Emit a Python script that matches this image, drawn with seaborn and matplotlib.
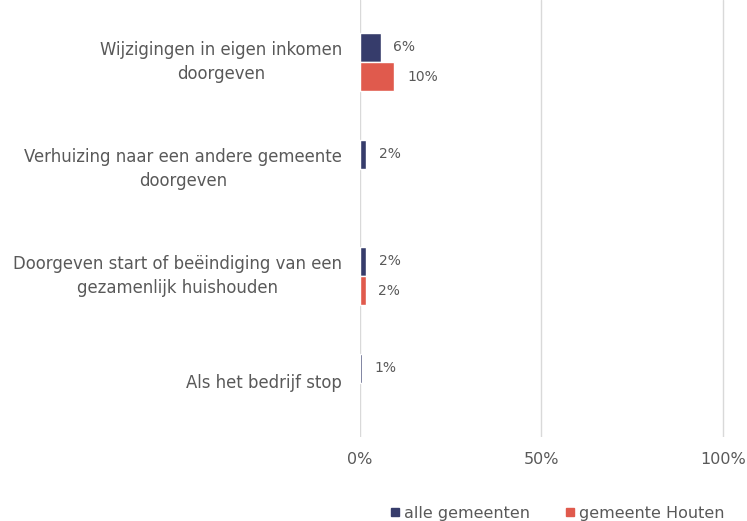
import numpy as np
import pandas as pd
import matplotlib
matplotlib.use("Agg")
import matplotlib.pyplot as plt
import seaborn as sns

categories = [
    "Wijzigingen in eigen inkomen\ndoorgeven",
    "Verhuizing naar een andere gemeente\ndoorgeven",
    "Doorgeven start of beëindiging van een\ngezamenlijk huishouden",
    "Als het bedrijf stop",
]
series = ["alle gemeenten", "gemeente Houten"]
alle_gemeenten = [5.7, 1.7, 1.7, 0.6]
gemeente_houten = [9.5, np.nan, 1.6, np.nan]
labels_alle = ["6%", "2%", "2%", "1%"]
labels_houten = ["10%", "", "2%", ""]
xticks = [0, 50, 100]
xticklabels = ["0%", "50%", "100%"]
colors = ["#363c6b", "#e05a4d"]

sns.set_style("white")
plt.rcParams["font.family"] = ["DejaVu Sans"]

df = pd.DataFrame({
    "cat": categories * 2,
    "val": alle_gemeenten + gemeente_houten,
    "series": [series[0]] * 4 + [series[1]] * 4,
})

fig = plt.figure(figsize=(7.47, 5.21), dpi=100)
ax = fig.add_axes([360 / 747, 1 - 436.5 / 521, (725 - 360) / 747, 436.5 / 521])
sns.barplot(data=df, y="cat", x="val", hue="series", order=categories,
            hue_order=series, palette=colors, width=0.55, gap=0,
            saturation=1, orient="h", ax=ax, legend=False)

ax.set_xlim(0, 100.6)
ax.set_ylim(3.5, -0.58)
ax.set_xticks(xticks)
ax.set_xticklabels(xticklabels)
ax.grid(axis="x", color="#d9d9d9", linewidth=1)
ax.set_axisbelow(True)
for s in ax.spines.values():
    s.set_visible(False)
ax.tick_params(axis="both", length=0, labelcolor="#595959", labelsize=11.5)
ax.tick_params(axis="y", labelsize=11.9)
ax.tick_params(axis="x", pad=11)
ax.tick_params(axis="y", pad=13)
for t in ax.get_yticklabels():
    t.set_multialignment("center")
    t.set_linespacing(1.45)
    t.set_verticalalignment("center")
ax.set_xlabel("")
ax.set_ylabel("")

# value labels, matched to categories by bar position
for cont, vals, labs in zip(ax.containers, [alle_gemeenten, gemeente_houten],
                            [labels_alle, labels_houten]):
    for bar in cont:
        w = bar.get_width()
        if np.isnan(w):
            continue
        yc = bar.get_y() + bar.get_height() / 2
        idx = int(round(yc))
        lab = labs[idx]
        if lab == "":
            continue
        ax.annotate(lab, (w, yc), xytext=(9, 0), textcoords="offset points",
                    va="center", ha="left", fontsize=10, color="#595959")

# legend
from matplotlib.lines import Line2D
handles = [Line2D([], [], marker="s", linestyle="", color=c, markersize=5.5) for c in colors]
fig.legend(handles, series, loc="lower center", bbox_to_anchor=(0.745, -0.027),
           ncol=2, frameon=False, fontsize=11.5, labelcolor="#595959",
           handletextpad=0.15, columnspacing=2.1, handlelength=0.8)

fig.savefig("out.png", dpi=100)
